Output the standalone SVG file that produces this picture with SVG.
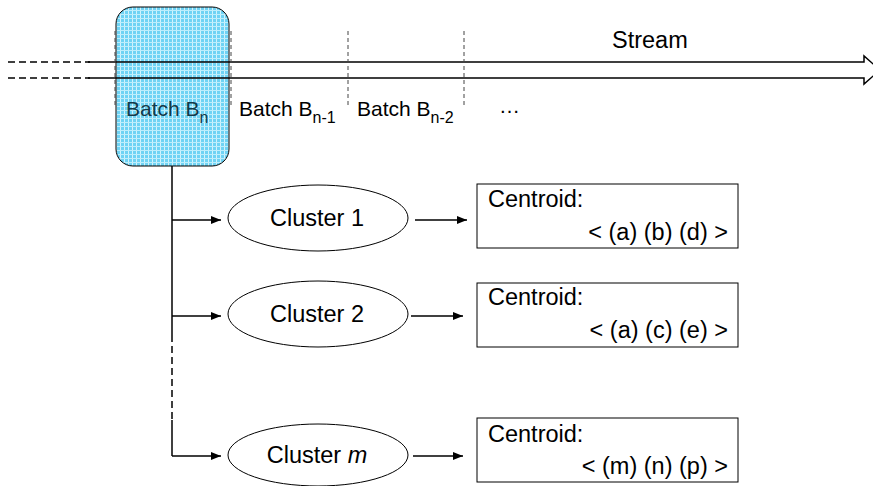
<svg xmlns="http://www.w3.org/2000/svg" width="873" height="486" viewBox="0 0 873 486">
<style>
text{font-family:"Liberation Sans",Arial,sans-serif;font-size:23.5px;fill:#000}
.bl{font-size:21px}
.sub{font-size:16px}
.ln{stroke:#000;stroke-width:1.5;fill:none}
.dv{stroke:#444;stroke-width:1;stroke-dasharray:4 3;fill:none}
.el{fill:#fff;stroke:#000;stroke-width:1}
.bx{fill:#fff;stroke:#000;stroke-width:1}
.ar{stroke:#000;stroke-width:1.5;fill:none;marker-end:url(#ah)}
</style>
<defs>
<marker id="ah" viewBox="0 0 10 8" refX="10" refY="4" markerWidth="10" markerHeight="8" markerUnits="userSpaceOnUse" orient="auto">
<path d="M0,0 L10,4 L0,8 Z" fill="#000"/>
</marker>
<pattern id="hatch" width="4" height="4" patternUnits="userSpaceOnUse">
<rect width="4" height="4" fill="#6fd3f4"/>
<rect x="0" y="0" width="1" height="4" fill="#d2f3fd"/>
<rect x="0" y="2" width="4" height="1" fill="#bdeefc"/>
</pattern>
</defs>
<g id="batch-bn">
<rect x="116" y="7" width="113" height="159" rx="17" fill="url(#hatch)" stroke="#000" stroke-width="1"/>
</g>
<g id="stream">
<path class="ln" d="M8,62 H90 M8,78 H90" stroke-dasharray="7 4"/>
<path class="ln" d="M88,62 H864 V56 L880,70 M88,78 H864 V84 L880,70"/>
<text x="612" y="48">Stream</text>
</g>
<g id="dividers">
<path class="dv" d="M115,31 V106 M231,31 V106 M348,31 V106 M464,31 V106"/>
</g>
<g id="batch-labels">
<text class="bl" x="126" y="116" style="fill:#123a4a">Batch B<tspan class="sub" dy="7">n</tspan></text>
<text class="bl" x="239" y="116">Batch B<tspan class="sub" dy="7">n-1</tspan></text>
<text class="bl" x="357" y="116">Batch B<tspan class="sub" dy="7">n-2</tspan></text>
<text class="bl" x="499" y="113">…</text>
</g>
<g id="connectors">
<path class="ln" d="M172,166 V335"/>
<path class="ln" d="M172,335 V420" stroke-dasharray="7 4"/>
<path class="ln" d="M172,420 V456"/>
<path class="ar" d="M172,220 H221"/>
<path class="ar" d="M172,316 H221"/>
<path class="ar" d="M172,456 H221"/>
<path class="ar" d="M415,220 H467"/>
<path class="ar" d="M411,316 H463"/>
<path class="ar" d="M413,456 H463"/>
</g>
<g id="cluster-1">
<ellipse class="el" cx="318" cy="218" rx="90" ry="33"/>
<text x="317" y="226" text-anchor="middle">Cluster 1</text>
</g>
<g id="cluster-2">
<ellipse class="el" cx="318" cy="314" rx="90" ry="33"/>
<text x="317" y="322" text-anchor="middle">Cluster 2</text>
</g>
<g id="cluster-m">
<ellipse class="el" cx="318" cy="455" rx="90" ry="31"/>
<text x="317" y="463" text-anchor="middle">Cluster <tspan font-style="italic">m</tspan></text>
</g>
<g id="centroid-1">
<rect class="bx" x="477" y="184" width="261" height="64"/>
<text x="488" y="207">Centroid:</text>
<text x="728" y="240" text-anchor="end">&lt; (a) (b) (d) &gt;</text>
</g>
<g id="centroid-2">
<rect class="bx" x="477" y="283" width="261" height="64"/>
<text x="488" y="305">Centroid:</text>
<text x="728" y="338" text-anchor="end">&lt; (a) (c) (e) &gt;</text>
</g>
<g id="centroid-m">
<rect class="bx" x="477" y="418" width="261" height="64"/>
<text x="488" y="442">Centroid:</text>
<text x="728" y="474" text-anchor="end">&lt; (m) (n) (p) &gt;</text>
</g>
</svg>
